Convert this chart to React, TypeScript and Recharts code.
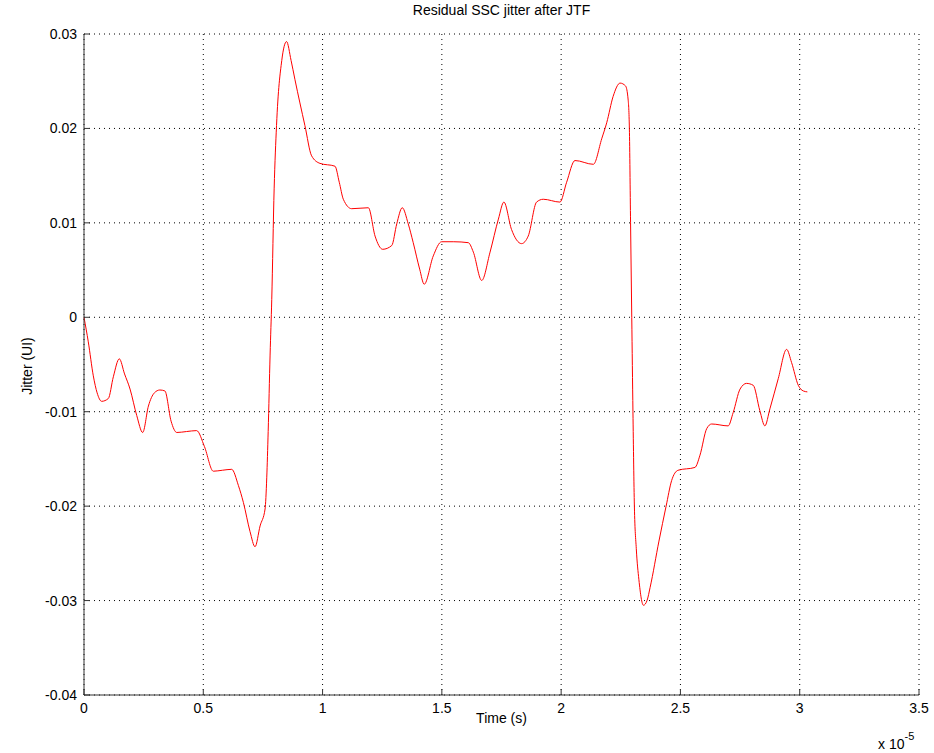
import { LineChart, Line, XAxis, YAxis, CartesianGrid } from "recharts";

// time in units of 1e-5 s
const time = [
  0, 0.018, 0.039, 0.055, 0.074, 0.102, 0.123, 0.148, 0.17, 0.193, 0.221, 0.246, 0.27, 0.295, 0.318,
  0.339, 0.365, 0.389, 0.43, 0.472, 0.505, 0.542, 0.58, 0.619, 0.647, 0.668, 0.696, 0.717, 0.738,
  0.759, 0.766, 0.772, 0.78, 0.787, 0.797, 0.807, 0.829, 0.849, 0.868, 0.884, 0.905, 0.926, 0.954,
  0.989, 1.052, 1.07, 1.087, 1.122, 1.192, 1.22, 1.252, 1.29, 1.311, 1.334, 1.359, 1.38, 1.407,
  1.426, 1.464, 1.499, 1.55, 1.611, 1.632, 1.667, 1.702, 1.737, 1.76, 1.792, 1.834, 1.862, 1.897,
  1.925, 1.995, 2.023, 2.058, 2.135, 2.17, 2.191, 2.218, 2.247, 2.27, 2.281, 2.286, 2.291, 2.296,
  2.301, 2.307, 2.315, 2.326, 2.345, 2.36, 2.373, 2.41, 2.44, 2.463, 2.49, 2.561, 2.582, 2.61,
  2.631, 2.7, 2.721, 2.75, 2.777, 2.805, 2.833, 2.854, 2.875, 2.91, 2.945, 2.966, 2.994, 3.015, 3.032,
];

const jitter = [
  0, -0.0026, -0.0062, -0.008, -0.0089, -0.0086, -0.0063, -0.0044, -0.006, -0.0076, -0.0104, -0.0122,
  -0.0094, -0.008, -0.0077, -0.0078, -0.011, -0.0122, -0.0121, -0.012, -0.0137, -0.0163, -0.0162,
  -0.0161, -0.0178, -0.0196, -0.0227, -0.0243, -0.0221, -0.0203, -0.017, -0.0121, -0.004, 0.0019,
  0.0136, 0.0203, 0.0272, 0.0292, 0.0272, 0.0252, 0.0227, 0.0203, 0.0171, 0.0163, 0.016, 0.0143,
  0.0125, 0.0115, 0.0116, 0.0086, 0.0072, 0.0076, 0.0099, 0.0116, 0.0099, 0.0079, 0.0051, 0.0035,
  0.0065, 0.008, 0.008, 0.0079, 0.0069, 0.0039, 0.0069, 0.0104, 0.0122, 0.0093, 0.0078, 0.0086,
  0.0122, 0.0125, 0.0122, 0.0143, 0.0166, 0.0162, 0.0189, 0.0206, 0.0234, 0.0248, 0.0245, 0.023,
  0.02, 0.01, 0, -0.01, -0.02, -0.0245, -0.0278, -0.0305, -0.03, -0.0286, -0.0237, -0.02, -0.0173,
  -0.0162, -0.0159, -0.0146, -0.0118, -0.0113, -0.0115, -0.0101, -0.0076, -0.007, -0.0072, -0.0099,
  -0.0115, -0.0097, -0.0065, -0.0034, -0.0048, -0.0072, -0.0078, -0.0079,
];

const xTicks = [0, 0.5, 1, 1.5, 2, 2.5, 3, 3.5];
const yTicks = [-0.04, -0.03, -0.02, -0.01, 0, 0.01, 0.02, 0.03];

const data = time.map((t, i) => ({ t, v: jitter[i] }));

const font = "'Liberation Sans', Arial, sans-serif";
const tickStyle = { fontSize: 14, fill: "#000", fontFamily: font };

const fmtY = (v: number) => (v === 0 ? "0" : v.toFixed(2));

export default function App() {
  return (
    <div style={{ position: "absolute", left: 0, top: 0, width: 934, height: 753, background: "#fff", fontFamily: font }}>
      <LineChart width={934} height={753} data={data} margin={{ top: 34, right: 15, left: 0, bottom: 0 }}>
        <CartesianGrid stroke="#000" strokeDasharray="1 4" xAxisId="bottom" yAxisId="left" />
        <XAxis
          xAxisId="bottom"
          dataKey="t"
          type="number"
          domain={[0, 3.5]}
          ticks={xTicks}
          height={58}
          tick={tickStyle}
          tickSize={-6}
          tickMargin={14}
          stroke="#333"
        />
        <XAxis
          xAxisId="top"
          orientation="top"
          type="number"
          domain={[0, 3.5]}
          ticks={xTicks}
          height={0}
          tick={false}
          tickSize={-6}
          stroke="#333"
        />
        <YAxis
          yAxisId="left"
          type="number"
          domain={[-0.04, 0.03]}
          ticks={yTicks}
          width={84}
          tick={tickStyle}
          tickFormatter={fmtY}
          tickSize={-6}
          tickMargin={13}
          stroke="#333"
        />
        <YAxis
          yAxisId="right"
          orientation="right"
          type="number"
          domain={[-0.04, 0.03]}
          ticks={yTicks}
          width={0}
          tick={false}
          tickSize={-6}
          stroke="#333"
        />
        <Line
          xAxisId="bottom"
          yAxisId="left"
          type="monotone"
          dataKey="v"
          stroke="#ff0000"
          strokeWidth={1}
          dot={false}
          isAnimationActive={false}
        />
      </LineChart>
      <div style={{ position: "absolute", left: 84, width: 835, top: 2, textAlign: "center", fontSize: 14 }}>
        Residual SSC jitter after JTF
      </div>
      <div style={{ position: "absolute", left: 84, width: 835, top: 710, textAlign: "center", fontSize: 14 }}>
        Time (s)
      </div>
      <div
        style={{
          position: "absolute",
          left: 27,
          top: 366,
          fontSize: 14,
          whiteSpace: "nowrap",
          transform: "translate(-50%, -50%) rotate(-90deg)",
        }}
      >
        Jitter (UI)
      </div>
      <div style={{ position: "absolute", left: 878, top: 733, fontSize: 14, whiteSpace: "nowrap" }}>
        x 10<sup style={{ fontSize: 11, position: "relative", top: -3 }}>-5</sup>
      </div>
    </div>
  );
}
